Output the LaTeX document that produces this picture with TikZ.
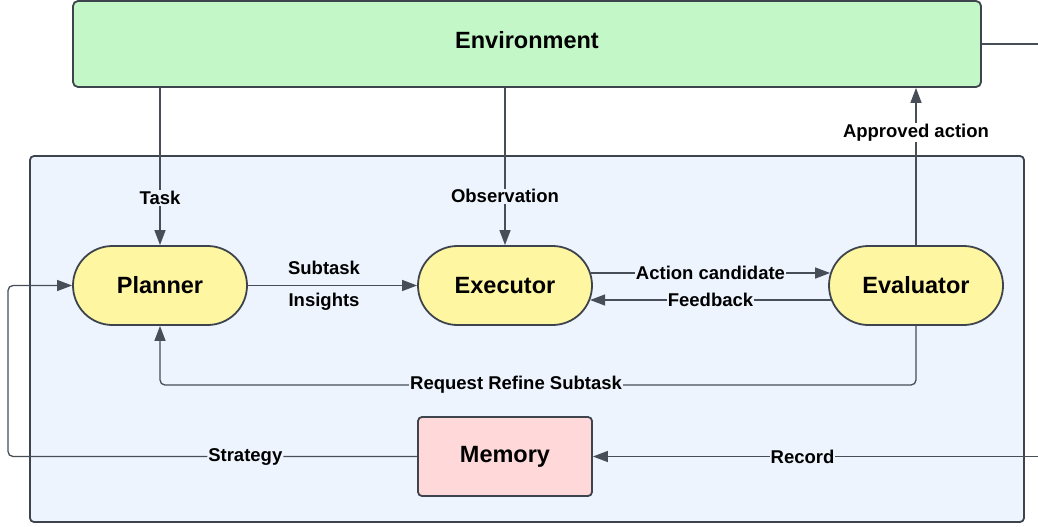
\documentclass[tikz,border=0pt]{standalone}
\usepackage{fontspec}
\setmainfont{Liberation Sans}
\usetikzlibrary{shapes.misc,arrows.meta,calc}
\definecolor{envfill}{HTML}{C3F7C7}
\definecolor{agentfill}{HTML}{EDF4FE}
\definecolor{yel}{HTML}{FFF6A1}
\definecolor{pinkf}{HTML}{FFD8D9}
\definecolor{edgec}{HTML}{474E58}
\definecolor{borderc}{HTML}{3E444E}
\begin{document}
\begin{tikzpicture}[x=1pt,y=-1pt,
  boxst/.style={draw=borderc,line width=1.8pt,rounded corners=5pt,inner sep=0pt},
  agentnode/.style={rounded rectangle,draw=borderc,line width=1.8pt,fill=yel,minimum width=174pt,minimum height=79pt,inner sep=0pt,font=\fontsize{23.5}{26}\selectfont\bfseries},
  conn/.style={draw=edgec,line width=1.3pt,-{Triangle[length=15pt,width=11pt]}},
  plainline/.style={draw=edgec,line width=1.3pt},
  lbl/.style={font=\fontsize{18.5}{21}\selectfont\bfseries,inner sep=1pt,fill=agentfill},
  freelbl/.style={font=\fontsize{18.5}{21}\selectfont\bfseries,inner sep=1pt}
]
\useasboundingbox (0,0) rectangle (1038,527);
% containers
\node[boxst,fill=agentfill,rounded corners=4pt,minimum width=994pt,minimum height=366pt] (agent) at (527,339) {};
\node[boxst,fill=envfill,minimum width=908pt,minimum height=86pt,text depth=8pt,font=\fontsize{23.5}{26}\selectfont\bfseries] (env) at (527,44) {Environment};
% agents
\node[agentnode] (planner) at (160,285.5) {Planner};
\node[agentnode] (executor) at (505,285.5) {Executor};
\node[agentnode] (evaluator) at (916,285.5) {Evaluator};
\node[boxst,rounded corners=4pt,fill=pinkf,minimum width=174pt,minimum height=79pt,font=\fontsize{23.5}{26}\selectfont\bfseries] (memory) at (505,456.5) {Memory};
% helper coordinates
\coordinate (rr) at (0,385);
\coordinate (leftrail) at (8,0);
\coordinate (rightedge) at (1038,0);
% connectors
\draw[conn] (env.south -| planner.north) -- node[lbl,pos=0.7]{Task} (planner.north);
\draw[conn] (env.south -| executor.north) -- node[lbl,pos=0.69]{Observation} (executor.north);
\draw[conn] (evaluator.north) -- node[lbl,fill=white,pos=0.717]{Approved action} (evaluator.north |- env.south);
\draw[conn] (planner.east) -- node[freelbl,pos=0.45,above=9.5pt]{Subtask} node[freelbl,pos=0.45,below=6pt]{Insights} (executor.west);
\draw[conn] ($(executor.east)+(-2,-12.5)$) -- node[lbl]{Action candidate} ($(evaluator.west)+(2,-12.5)$);
\draw[conn] ($(evaluator.west)+(2.8,14.5)$) -- node[lbl]{Feedback} ($(executor.east)+(-2.8,14.5)$);
\draw[conn,rounded corners=5pt] (evaluator.south) -- (evaluator.south |- rr) -- node[lbl,pos=0.529]{Request Refine Subtask} (planner.south |- rr) -- (planner.south);
\draw[conn,rounded corners=5pt] (memory.west) -- node[lbl,pos=0.42]{Strategy} (memory.west -| leftrail) -- (leftrail |- planner.west) -- (planner.west);
\draw[conn] (rightedge |- memory.east) -- node[lbl,pos=0.529]{Record} (memory.east);
\draw[plainline] (env.east) -- (env.east -| rightedge);
\end{tikzpicture}
\end{document}
